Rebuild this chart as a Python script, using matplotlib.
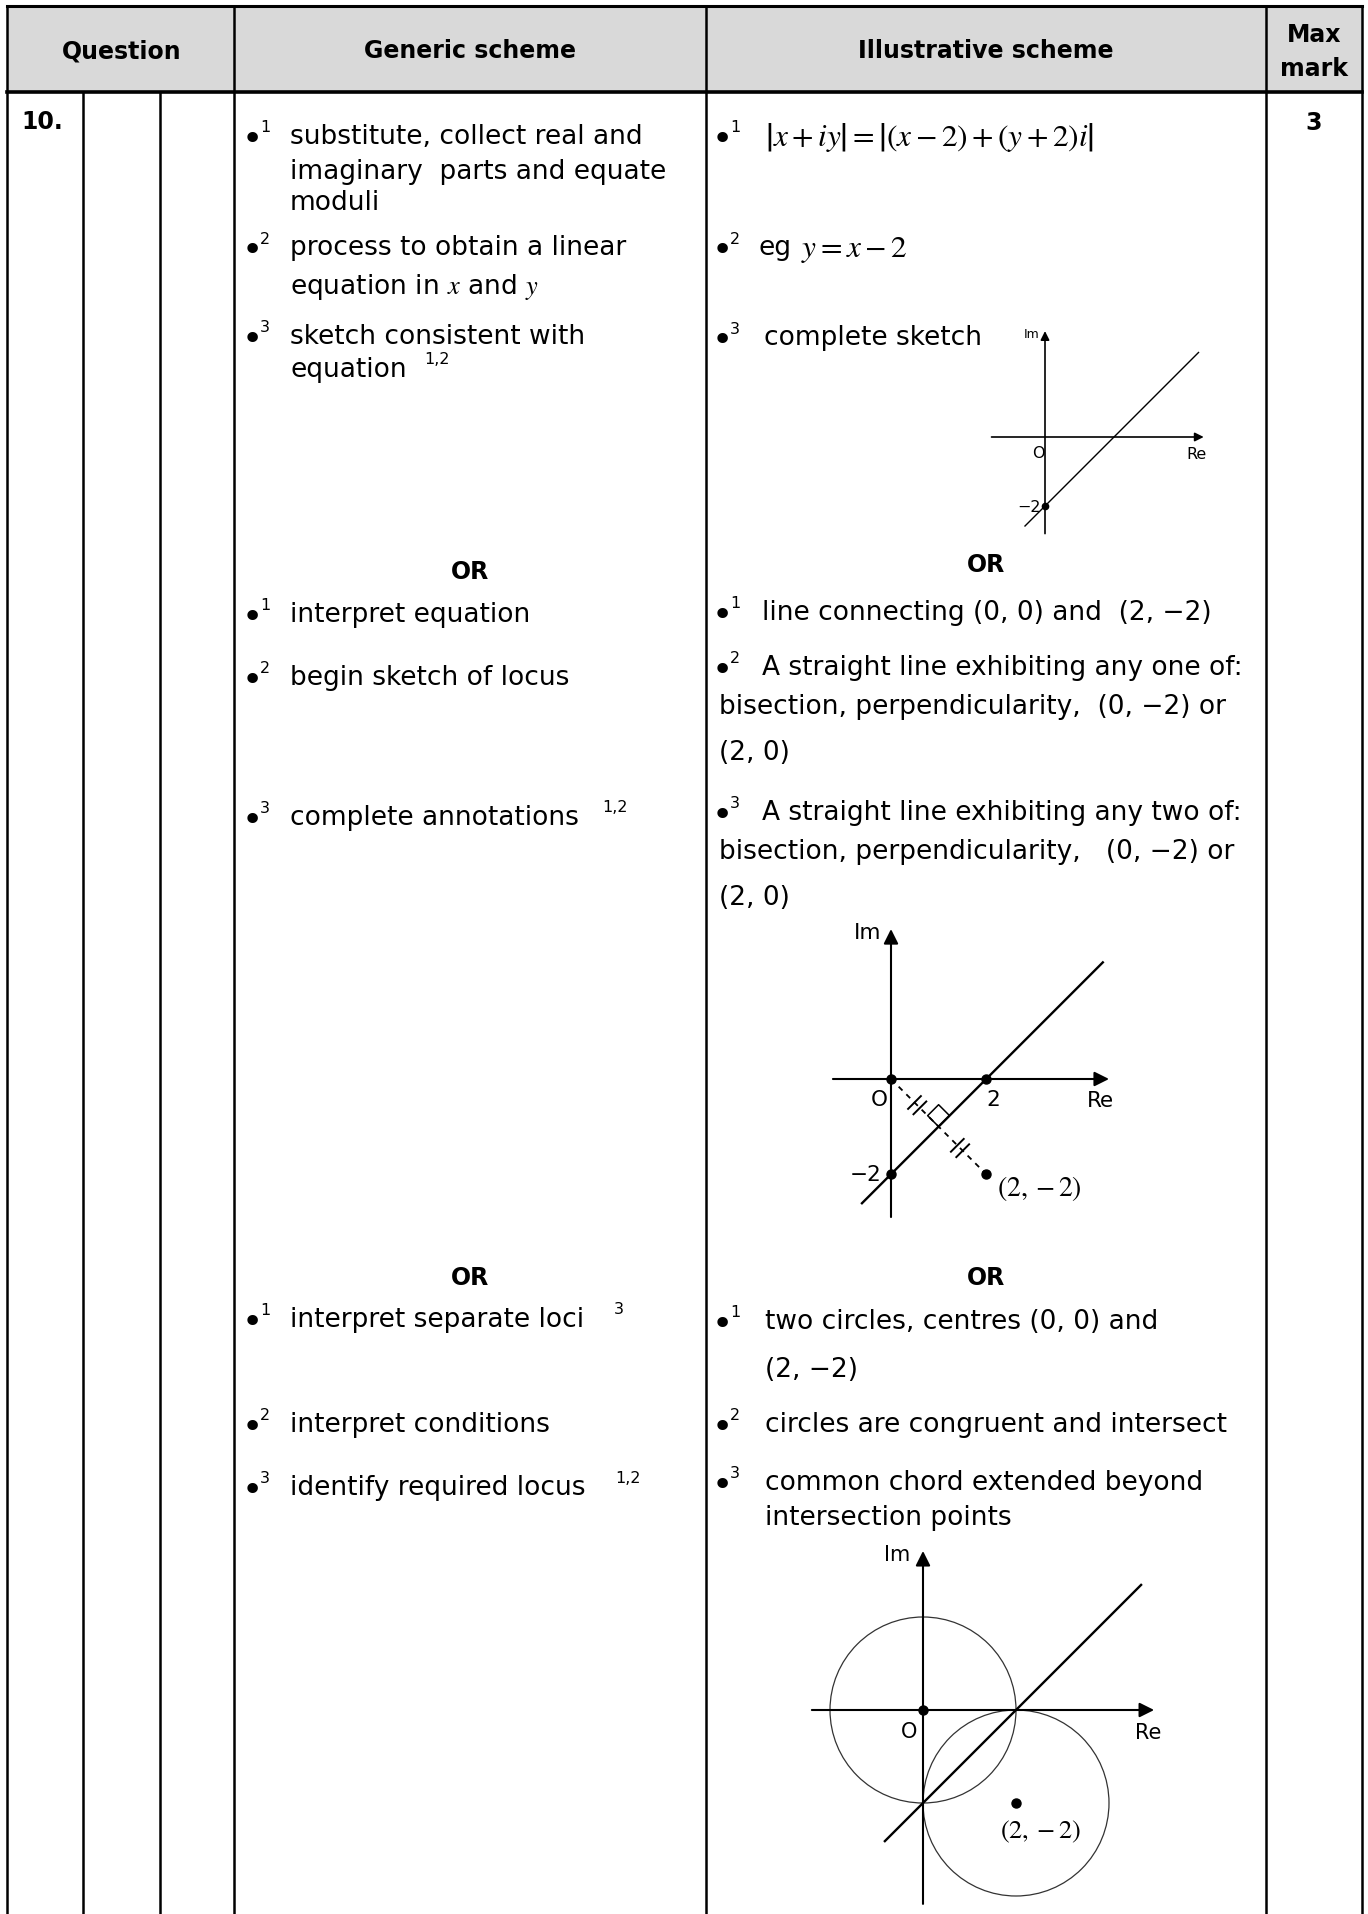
import numpy as np
import matplotlib.pyplot as plt
from matplotlib.patches import Circle, Rectangle

plt.rcParams['font.family'] = ['DejaVu Sans']
plt.rcParams['mathtext.fontset'] = 'stix'

# table layout (pixels)
W, H = 1368, 1915
col_x = [7, 83, 160, 234, 706, 1266, 1362]
head_top, head_bot = 7, 93

headers = ["Question", "Generic scheme", "Illustrative scheme"]
header_x = [122, 470, 986]

# generic scheme column: (y, bullet, text)
generic = [
    (137, "1", "substitute, collect real and"),
    (172, None, "imaginary  parts and equate"),
    (203, None, "moduli"),
    (248, "2", "process to obtain a linear"),
    (287, None, "equation in $x$ and $y$"),
    (337, "3", "sketch consistent with"),
    (370, None, "equation"),
    (615, "1", "interpret equation"),
    (678, "2", "begin sketch of locus"),
    (818, "3", "complete annotations"),
    (1320, "1", "interpret separate loci"),
    (1425, "2", "interpret conditions"),
    (1488, "3", "identify required locus"),
]
generic_notes = [(424, 360, "1,2"), (602, 808, "1,2"), (614, 1310, "3"), (615, 1479, "1,2")]

# illustrative scheme column: (y, bullet, indent, text)
illus = [
    (338, "3", 764, "complete sketch"),
    (613, "1", 762, "line connecting (0, 0) and  (2, \u22122)"),
    (668, "2", 762, "A straight line exhibiting any one of:"),
    (707, None, 719, "bisection, perpendicularity,  (0, \u22122) or"),
    (753, None, 719, "(2, 0)"),
    (813, "3", 762, "A straight line exhibiting any two of:"),
    (852, None, 719, "bisection, perpendicularity,   (0, \u22122) or"),
    (898, None, 719, "(2, 0)"),
    (1322, "1", 765, "two circles, centres (0, 0) and"),
    (1370, None, 765, "(2, \u22122)"),
    (1425, "2", 765, "circles are congruent and intersect"),
    (1483, "3", 765, "common chord extended beyond"),
    (1518, None, 765, "intersection points"),
]
or_y = [(572, 565), (1278, 1278)]

# sketch 1: y = x - 2
s1_re = [-1.55, 4.6]
s1_im = [-2.8, 3.07]
s1_line_x = [-0.58, 4.45]
s1_line_y = [-2.58, 2.45]
s1_dots_x = [0]
s1_dots_y = [-2]

# sketch 2: perpendicular bisector of (0,0)-(2,-2)
s2_re = [-1.22, 4.58]
s2_im = [-2.9, 3.15]
s2_line_x = [-0.61, 4.45]
s2_line_y = [-2.61, 2.45]
s2_dash_x = [0, 2]
s2_dash_y = [0, -2]
s2_dots_x = [0, 2, 0, 2]
s2_dots_y = [0, 0, -2, -2]
s2_tick_t = [0.55, 1.45]
s2_square_x = [1.0, 0.77, 1.0, 1.23, 1.0]
s2_square_y = [-1.0, -0.77, -0.54, -0.77, -1.0]

# sketch 3: two circles and common chord
s3_re = [-2.39, 4.97]
s3_im = [-4.17, 3.42]
s3_centres = [(0, 0), (2, -2)]
s3_radius = 2
s3_line_x = [-0.82, 4.69]
s3_line_y = [-2.82, 2.69]
s3_dots_x = [0, 2]
s3_dots_y = [0, -2]

fig = plt.figure(figsize=(W / 100, H / 100), dpi=100)
ax = fig.add_axes([0, 0, 1, 1])
ax.set_xlim(0, W)
ax.set_ylim(H, 0)
ax.axis('off')

# table grid
ax.add_patch(Rectangle((col_x[0], head_top), col_x[-1] - col_x[0], head_bot - head_top,
                       fc='#d9d9d9', ec='none'))
for x in [col_x[0], col_x[3], col_x[4], col_x[5], col_x[6]]:
    ax.plot([x, x], [head_top, H], color='black', lw=1.8, solid_capstyle='butt')
for x in [col_x[1], col_x[2]]:
    ax.plot([x, x], [head_bot, H], color='black', lw=1.8, solid_capstyle='butt')
ax.plot([col_x[0], col_x[-1]], [head_top, head_top], color='black', lw=2.2)
ax.plot([col_x[0], col_x[-1]], [head_bot, head_bot], color='black', lw=2.6)

fs = 19
for x, t in zip(header_x, headers):
    ax.text(x, 51, t, ha='center', va='center', fontsize=17, fontweight='bold')
ax.text(1314, 35, "Max", ha='center', va='center', fontsize=17, fontweight='bold')
ax.text(1314, 69, "mark", ha='center', va='center', fontsize=17, fontweight='bold')
ax.text(21, 122, "10.", ha='left', va='center', fontsize=17, fontweight='bold')
ax.text(1314, 123, "3", ha='center', va='center', fontsize=17, fontweight='bold')


def bullet(x, y, n):
    ax.text(x, y + 3, "\u2022", ha='center', va='center', fontsize=26)
    ax.text(x + 8, y - 9, n, ha='left', va='center', fontsize=11.5)


for y, b, t in generic:
    if b:
        bullet(252, y, b)
    ax.text(290, y, t, ha='left', va='center', fontsize=fs)
for x, y, t in generic_notes:
    ax.text(x, y, t, ha='left', va='center', fontsize=11.5)

for y, b, x, t in illus:
    if b:
        bullet(722, y, b)
    ax.text(x, y, t, ha='left', va='center', fontsize=fs)

# formulas in the illustrative column
bullet(722, 137, "1")
ax.text(765, 137, r"$\left|x+iy\right|=\left|(x-2)+(y+2)i\right|$",
        ha='left', va='center', fontsize=22.5)
bullet(722, 248, "2")
ax.text(758, 248, "eg", ha='left', va='center', fontsize=fs)
ax.text(801, 250, r"$y=x-2$", ha='left', va='center', fontsize=22.5)

for yg, yi in or_y:
    ax.text(470, yg, "OR", ha='center', va='center', fontsize=17, fontweight='bold')
    ax.text(986, yi, "OR", ha='center', va='center', fontsize=17, fontweight='bold')


def sketch(ox, oy, u, xlim, ylim):
    left = ox + xlim[0] * u
    right = ox + xlim[1] * u
    top = oy - ylim[1] * u
    bot = oy - ylim[0] * u
    a = fig.add_axes([left / W, (H - bot) / H, (right - left) / W, (bot - top) / H])
    a.set_xlim(xlim)
    a.set_ylim(ylim)
    a.axis('off')
    return a


def axes_arrows(a, re, im, lw, ms):
    arr = dict(arrowstyle='-|>', color='black', lw=lw, mutation_scale=ms,
               shrinkA=0, shrinkB=0)
    a.annotate('', xy=(re[1], 0), xytext=(re[0], 0), arrowprops=arr)
    a.annotate('', xy=(0, im[1]), xytext=(0, im[0]), arrowprops=arr)


# sketch 1
a1 = sketch(1045, 438, 34.5, [-2.0, 5.0], [-3.2, 3.4])
axes_arrows(a1, s1_re, s1_im, 1.2, 13)
a1.plot(s1_line_x, s1_line_y, color='black', lw=1.0)
a1.plot(s1_dots_x, s1_dots_y, 'o', color='black', ms=4.5)
a1.text(-0.17, 3.0, "Im", ha='right', va='center', fontsize=9)
a1.text(-0.2, -0.45, "O", ha='center', va='center', fontsize=11.5)
a1.text(4.4, -0.47, "Re", ha='center', va='center', fontsize=11.5)
a1.text(-0.12, -2.0, "\u22122", ha='right', va='center', fontsize=11.5)

# sketch 2
a2 = sketch(891, 1080, 47.6, [-1.6, 5.0], [-3.3, 3.5])
axes_arrows(a2, s2_re, s2_im, 1.5, 22)
a2.plot(s2_line_x, s2_line_y, color='black', lw=1.7)
a2.plot(s2_dash_x, s2_dash_y, color='black', lw=1.3, ls=(0, (3, 3)))
a2.plot(s2_dots_x, s2_dots_y, 'o', color='black', ms=6.5)
d = np.array([1, -1]) / np.sqrt(2)
n = np.array([1, 1]) / np.sqrt(2)
for t in s2_tick_t:
    for off in [-0.08, 0.08]:
        c = np.array([t, -t]) + off * d
        p = np.array([c - 0.19 * n, c + 0.19 * n])
        a2.plot(p[:, 0], p[:, 1], color='black', lw=1.4)
a2.plot(s2_square_x, s2_square_y, color='black', lw=1.1)
a2.text(-0.2, 3.09, "Im", ha='right', va='center', fontsize=15.5)
a2.text(-0.25, -0.42, "O", ha='center', va='center', fontsize=15.5)
a2.text(2.15, -0.42, "2", ha='center', va='center', fontsize=15.5)
a2.text(4.41, -0.44, "Re", ha='center', va='center', fontsize=15.5)
a2.text(-0.2, -1.99, "\u22122", ha='right', va='center', fontsize=15.5)
a2.text(2.22, -2.27, r"$(2,-2)$", ha='left', va='center', fontsize=20)

# sketch 3
a3 = sketch(923, 1711, 46.5, [-2.8, 5.3], [-4.4, 3.8])
axes_arrows(a3, s3_re, s3_im, 1.5, 22)
for c in s3_centres:
    a3.add_patch(Circle(c, s3_radius, fill=False, ec='#333333', lw=0.9))
a3.plot(s3_line_x, s3_line_y, color='black', lw=1.7)
a3.plot(s3_dots_x, s3_dots_y, 'o', color='black', ms=6.5)
a3.text(-0.28, 3.35, "Im", ha='right', va='center', fontsize=15)
a3.text(-0.29, -0.45, "O", ha='center', va='center', fontsize=15)
a3.text(4.84, -0.47, "Re", ha='center', va='center', fontsize=15)
a3.text(2.52, -2.6, r"$(2,-2)$", ha='center', va='center', fontsize=19)

fig.savefig('out.png', dpi=100)
